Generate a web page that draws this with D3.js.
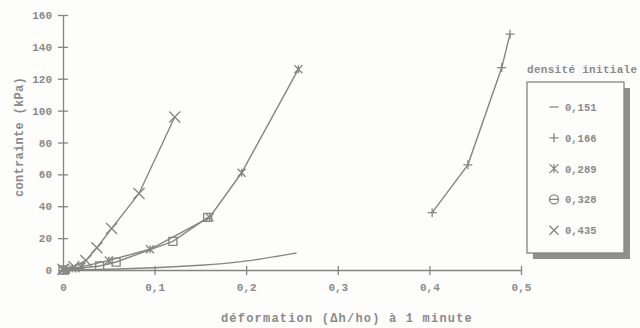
<!DOCTYPE html>
<html>
<head>
<meta charset="utf-8">
<script src="https://cdn.jsdelivr.net/npm/d3@7"></script>
<style>
  body { margin: 0; background: #fdfdfb; }
  text { font-family: "Liberation Mono", "Courier New", monospace; font-weight: bold; fill: #8a8a8a; }
</style>
</head>
<body>
<div id="chart"></div>
<script>
const xTicks = [0, 0.1, 0.2, 0.3, 0.4, 0.5];
const yTicks = [0, 20, 40, 60, 80, 100, 120, 140, 160];

const legendLabels = ["0,151", "0,166", "0,289", "0,328", "0,435"];
const markerTypes = ["none", "plus", "star", "square", "cross"];
const legendMarkers = ["none", "plus", "star", "theta", "cross"];

// strain (Δh/ho) and stress (kPa) per initial density
const d151x = [0, 0.05, 0.1, 0.15, 0.2, 0.255];
const d151y = [0, 0.4, 1.3, 2.8, 5.2, 10.7];
const d166x = [0.403, 0.442, 0.479, 0.488];
const d166y = [36, 66, 127, 148];
const d289x = [0, 0.01, 0.02, 0.05, 0.095, 0.16, 0.195, 0.257];
const d289y = [0, 1, 2, 6, 13, 33, 61, 126];
const d328x = [0, 0.04, 0.058, 0.12, 0.158];
const d328y = [0, 2.5, 5, 18, 33];
const d435x = [0, 0.012, 0.025, 0.037, 0.053, 0.083, 0.122];
const d435y = [0.5, 2, 6, 14, 26, 48, 96];

const seriesX = [d151x, d166x, d289x, d328x, d435x];
const seriesY = [d151y, d166y, d289y, d328y, d435y];

const width = 640, height = 328;
const svg = d3.select("#chart").append("svg")
    .attr("width", width).attr("height", height);

const x = d3.scaleLinear().domain([0, 0.5]).range([63, 521]);
const y = d3.scaleLinear().domain([0, 160]).range([270, 15]);
const grey = "#858585";
const fmt = d => d === 0 ? "0" : d3.format(".1f")(d).replace(".", ",");

// axes
const xAxis = svg.append("g").attr("transform", `translate(0,${y(0)})`)
    .call(d3.axisBottom(x).tickValues(xTicks).tickFormat(fmt).tickSizeInner(5).tickSizeOuter(0).tickPadding(8));
xAxis.selectAll("line").attr("y1", -4);
const yAxis = svg.append("g").attr("transform", `translate(${x(0)},0)`)
    .call(d3.axisLeft(y).tickValues(yTicks).tickSizeInner(5).tickSizeOuter(0).tickPadding(6));
yAxis.selectAll("line").attr("x1", 5);
svg.selectAll(".domain, .tick line").attr("stroke", grey).attr("stroke-width", 1.3);
svg.selectAll(".tick text").style("font-size", "11px").attr("fill", "#8a8a8a");

// axis titles
svg.append("text").attr("x", 347).attr("y", 322).attr("text-anchor", "middle")
    .style("font-size", "12px").style("letter-spacing", "1.2px")
    .text("déformation (Δh/ho) à 1 minute");
svg.append("text").attr("transform", "translate(23,137) rotate(-90)").attr("text-anchor", "middle")
    .style("font-size", "12px").style("letter-spacing", "0.3px")
    .text("contrainte (kPa)");

function drawMarker(g, type, cx, cy, s) {
    const p = g.append("path").attr("stroke", grey).attr("stroke-width", 1.3).attr("fill", "none");
    if (type === "plus") p.attr("d", `M${cx - s},${cy}H${cx + s}M${cx},${cy - s}V${cy + s}`);
    else if (type === "cross") p.attr("d", `M${cx - s},${cy - s}L${cx + s},${cy + s}M${cx - s},${cy + s}L${cx + s},${cy - s}`);
    else if (type === "star") p.attr("d", `M${cx - s},${cy - s}L${cx + s},${cy + s}M${cx - s},${cy + s}L${cx + s},${cy - s}M${cx},${cy - s}V${cy + s}`);
    else if (type === "square") p.attr("d", `M${cx - s},${cy - s}h${2 * s}v${2 * s}h${-2 * s}Z`);
    else if (type === "theta") p.attr("d", `M${cx - s},${cy}a${s},${s} 0 1,0 ${2 * s},0a${s},${s} 0 1,0 ${-2 * s},0M${cx - s},${cy}H${cx + s}`);
    else if (type === "none") p.attr("d", `M${cx - s},${cy}H${cx + s}`);
}

const markerSize = [0, 4.5, 4, 4, 5.5];
seriesX.forEach((xs, i) => {
    const pts = xs.map((v, j) => [x(v), y(seriesY[i][j])]);
    const line = d3.line().curve(i === 0 ? d3.curveBasis : d3.curveLinear);
    svg.append("path").attr("d", line(pts)).attr("fill", "none")
        .attr("stroke", grey).attr("stroke-width", 1.4);
    if (markerTypes[i] !== "none") {
        const g = svg.append("g");
        pts.forEach(p => drawMarker(g, markerTypes[i], p[0], p[1], markerSize[i]));
    }
});

// origin blob
svg.append("rect").attr("x", x(0)).attr("y", y(0) - 3).attr("width", 7).attr("height", 7)
    .attr("fill", "#8a8a8a");

// legend
svg.append("text").attr("x", 527).attr("y", 73).style("font-size", "11px")
    .style("letter-spacing", "0.3px").text("densité initiale");
svg.append("rect").attr("x", 533).attr("y", 88).attr("width", 97).attr("height", 171).attr("fill", "#8f8f8f");
svg.append("rect").attr("x", 527).attr("y", 82).attr("width", 97).attr("height", 171)
    .attr("fill", "#fdfdfb").attr("stroke", grey).attr("stroke-width", 1.3);
const lg = svg.append("g");
legendLabels.forEach((lab, i) => {
    const ly = 107 + i * 30.8;
    drawMarker(lg, legendMarkers[i], 554, ly, 4.5);
    lg.append("text").attr("x", 565).attr("y", ly + 4).style("font-size", "10.5px").text(lab);
});
</script>
</body>
</html>
